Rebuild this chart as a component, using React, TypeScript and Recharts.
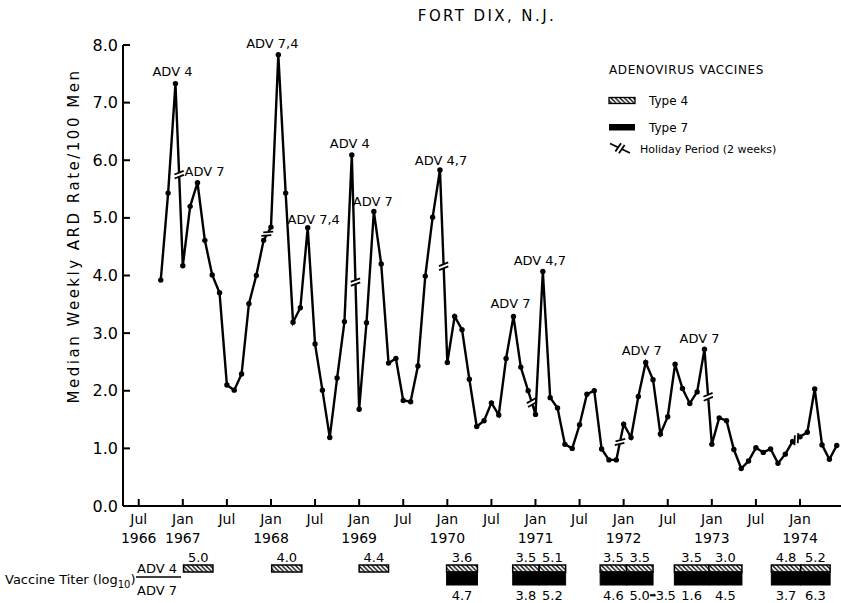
import React from 'react';
import { ComposedChart, Line, XAxis, YAxis, ReferenceArea, LabelList } from 'recharts';

// median weekly ARD rate per 100 men, one value per month
const rate1966 = [3.92, 5.43, 7.33]; // Oct - Dec
const rate1967 = [4.17, 5.2, 5.61, 4.61, 4.01, 3.7, 2.1, 2.01, 2.29, 3.51, 4.0, 4.61];
const rate1968 = [4.84, 7.83, 5.43, 3.19, 3.44, 4.83, 2.81, 2.01, 1.19, 2.22, 3.2, 6.09];
const rate1969 = [1.68, 3.18, 5.11, 4.2, 2.48, 2.56, 1.83, 1.81, 2.43, 3.99, 5.01, 5.83];
const rate1970 = [2.49, 3.29, 3.06, 2.2, 1.38, 1.48, 1.79, 1.58, 2.56, 3.29, 2.41, 2.0];
const rate1971 = [1.59, 4.07, 1.88, 1.7, 1.07, 1.0, 1.41, 1.94, 2.0, 0.99, 0.8, 0.8];
const rate1972 = [1.42, 1.19, 1.9, 2.49, 2.19, 1.25, 1.55, 2.46, 2.04, 1.78, 1.98, 2.72];
const rate1973 = [1.07, 1.53, 1.48, 0.98, 0.65, 0.78, 1.01, 0.93, 0.99, 0.74, 0.9, 1.12];
const rate1974 = [1.2, 1.28, 2.03, 1.06, 0.81, 1.05]; // Jan - Jun

// [year, first month, values]
const yearly: [number, number, number[]][] = [
  [1966, 10, rate1966],
  [1967, 1, rate1967],
  [1968, 1, rate1968],
  [1969, 1, rate1969],
  [1970, 1, rate1970],
  [1971, 1, rate1971],
  [1972, 1, rate1972],
  [1973, 1, rate1973],
  [1974, 1, rate1974],
];

const peakNotes = [
  { month: '1966-12', text: 'ADV 4' },
  { month: '1967-3', text: 'ADV 7' },
  { month: '1968-2', text: 'ADV 7,4' },
  { month: '1968-6', text: 'ADV 7,4' },
  { month: '1968-12', text: 'ADV 4' },
  { month: '1969-3', text: 'ADV 7' },
  { month: '1969-12', text: 'ADV 4,7' },
  { month: '1970-10', text: 'ADV 7' },
  { month: '1971-2', text: 'ADV 4,7' },
  { month: '1972-4', text: 'ADV 7' },
  { month: '1972-12', text: 'ADV 7' },
];

// x axis: months counted from Jul 1966
const tickMonths = [0, 6, 12, 18, 24, 30, 36, 42, 48, 54, 60, 66, 72, 78, 84, 90];
const tickNames = ['Jul', 'Jan', 'Jul', 'Jan', 'Jul', 'Jan', 'Jul', 'Jan', 'Jul', 'Jan', 'Jul', 'Jan', 'Jul', 'Jan', 'Jul', 'Jan'];
const tickYears = ['1966', '1967', '', '1968', '', '1969', '', '1970', '', '1971', '', '1972', '', '1973', '', '1974'];
const rateTicks = [0, 1, 2, 3, 4, 5, 6, 7, 8];

// vaccine given, months from Jul 1966, with titers (log10)
const vaccineSpans = [
  { from: 6.1, to: 10.1, adv4: '5.0', adv7: '' },
  { from: 18.1, to: 22.2, adv4: '4.0', adv7: '' },
  { from: 30, to: 34, adv4: '4.4', adv7: '' },
  { from: 41.9, to: 46.1, adv4: '3.6', adv7: '4.7' },
  { from: 50.9, to: 54.5, adv4: '3.5', adv7: '3.8' },
  { from: 54.5, to: 58.1, adv4: '5.1', adv7: '5.2' },
  { from: 62.8, to: 66.4, adv4: '3.5', adv7: '4.6' },
  { from: 66.4, to: 70, adv4: '3.5', adv7: '5.0>3.5' },
  { from: 72.9, to: 77.6, adv4: '3.5', adv7: '1.6' },
  { from: 77.6, to: 82.1, adv4: '3.0', adv7: '4.5' },
  { from: 86.1, to: 90.1, adv4: '4.8', adv7: '3.7' },
  { from: 90.1, to: 94.1, adv4: '5.2', adv7: '6.3' },
];

const rows = yearly.flatMap(([yr, first, vals]) =>
  vals.map((rate, i) => {
    const mon = first + i;
    const key = `${yr}-${mon}`;
    const note = peakNotes.find((n) => n.month === key);
    return { t: (yr - 1966) * 12 + mon - 7, key, rate, holiday: mon === 12, note: note ? note.text : '' };
  })
);

// where each peak label sits relative to its point
const noteShift: Record<string, [number, number]> = {
  '1966-12': [-3, -12],
  '1967-3': [7, -11],
  '1968-2': [-6, -11],
  '1968-6': [6, -8],
  '1968-12': [-2, -12],
  '1969-3': [-1, -10],
  '1969-12': [1, -10],
  '1970-10': [-3, -13],
  '1971-2': [-3, -11],
  '1972-4': [-4, -12],
  '1972-12': [-5, -11],
};

const FONT = '"DejaVu Sans", sans-serif';

function breakMark(mx: number, my: number, ux: number, uy: number, k: string) {
  let px = -uy;
  let py = ux;
  if (px - py < 0) {
    px = -px;
    py = -py;
  }
  let sx = px + 0.6;
  let sy = py - 0.6;
  const l = Math.hypot(sx, sy) || 1;
  sx = (sx / l) * 5;
  sy = (sy / l) * 5;
  return (
    <g key={k}>
      <line x1={mx - ux * 2.5} y1={my - uy * 2.5} x2={mx + ux * 2.5} y2={my + uy * 2.5} stroke="#fff" strokeWidth={5} />
      {[-2, 2].map((s) => (
        <line
          key={s}
          x1={mx + ux * s - sx}
          y1={my + uy * s - sy}
          x2={mx + ux * s + sx}
          y2={my + uy * s + sy}
          stroke="#000"
          strokeWidth={1.8}
        />
      ))}
    </g>
  );
}

const renderDot = (p: any) => {
  const { cx, cy, index, payload, points } = p;
  let mark = null;
  if (payload && payload.holiday && points && points[index + 1]) {
    const nx = points[index + 1].x;
    const ny = points[index + 1].y;
    const dx = nx - cx;
    const dy = ny - cy;
    const l = Math.hypot(dx, dy) || 1;
    mark = breakMark((cx + nx) / 2, (cy + ny) / 2, dx / l, dy / l, 'b');
  }
  return (
    <g key={`dot-${index}`}>
      <circle cx={cx} cy={cy} r={2.7} fill="#000" />
      {mark}
    </g>
  );
};

const renderNote = (p: any) => {
  const { x, y, value, index } = p;
  if (!value) return null;
  const [dx, dy] = noteShift[rows[index].key] || [0, -11];
  return (
    <text x={x + dx} y={y + dy} textAnchor="middle" dominantBaseline="central" fontSize={13} fontFamily={FONT} fill="#000">
      {value}
    </text>
  );
};

const MonthTick = (props: any) => {
  const { x, y, payload } = props;
  const i = tickMonths.indexOf(payload.value);
  return (
    <g fontFamily={FONT} fontSize={14} fill="#000">
      <line x1={x} y1={y} x2={x} y2={y - 7} stroke="#000" strokeWidth={2} />
      <text x={x} y={y + 13} textAnchor="middle" dominantBaseline="central">{tickNames[i]}</text>
      <text x={x} y={y + 32} textAnchor="middle" dominantBaseline="central">{tickYears[i]}</text>
    </g>
  );
};

const RateTick = (props: any) => {
  const { x, y, payload } = props;
  return (
    <g>
      <line x1={x} y1={y} x2={x + 7} y2={y} stroke="#000" strokeWidth={2} />
      <text x={x - 5} y={y} textAnchor="end" dominantBaseline="central" fontSize={16} fontFamily={FONT} fill="#000">
        {Number(payload.value).toFixed(1)}
      </text>
    </g>
  );
};

const VaccineBox = (props: any) => {
  const { x, y, width, height, span } = props;
  const base = y + height;
  const top = base + 59;
  const cx = x + width / 2;
  const parts = span.adv7.split('>');
  return (
    <g fontFamily={FONT} fontSize={13} fill="#000">
      <rect x={x} y={top} width={width} height={7} fill="url(#hatch4)" stroke="#000" strokeWidth={1.5} />
      {span.adv7 && <rect x={x} y={top + 7} width={width} height={13} fill="#000" stroke="#000" strokeWidth={1} />}
      <text x={cx} y={base + 51} textAnchor="middle" dominantBaseline="central">{span.adv4}</text>
      {span.adv7 && parts.length === 1 && (
        <text x={cx} y={base + 89} textAnchor="middle" dominantBaseline="central">{span.adv7}</text>
      )}
      {parts.length === 2 && (
        <text x={x + 3} y={base + 89} dominantBaseline="central" letterSpacing={-0.3}>
          {parts[0]}
          <tspan fontSize={8}>{'\u27a1'}</tspan>
          {parts[1]}
        </text>
      )}
    </g>
  );
};

export default function App() {
  return (
    <div style={{ position: 'relative', width: 841, height: 603, background: '#fff' }}>
      <style>{'body{margin:0}'}</style>
      <ComposedChart width={841} height={603} data={rows} margin={{ top: 45, right: 0, bottom: 0, left: 0 }}>
        <XAxis
          type="number"
          dataKey="t"
          domain={[-2.14, 95.58]}
          ticks={tickMonths}
          interval={0}
          tick={<MonthTick />}
          tickLine={false}
          tickSize={0}
          tickMargin={0}
          height={97}
          axisLine={{ stroke: '#000', strokeWidth: 2 }}
        />
        <YAxis
          type="number"
          domain={[0, 8]}
          ticks={rateTicks}
          interval={0}
          tick={<RateTick />}
          tickLine={false}
          tickSize={0}
          tickMargin={0}
          width={123}
          axisLine={{ stroke: '#000', strokeWidth: 2 }}
        />
        {vaccineSpans.map((s, i) => (
          <ReferenceArea
            key={`vac-${i}`}
            x1={s.from}
            x2={s.to}
            ifOverflow="visible"
            shape={(p: any) => <VaccineBox {...p} span={s} />}
          />
        ))}
        <Line
          type="linear"
          dataKey="rate"
          stroke="#000"
          strokeWidth={2.4}
          dot={renderDot}
          activeDot={false}
          isAnimationActive={false}
        >
          <LabelList dataKey="note" content={renderNote} />
        </Line>
      </ComposedChart>
      <svg
        width={841}
        height={603}
        style={{ position: 'absolute', left: 0, top: 0, pointerEvents: 'none' }}
        fontFamily={FONT}
        fill="#000"
      >
        <defs>
          <pattern id="hatch4" patternUnits="userSpaceOnUse" width={4.5} height={4.5}>
            <rect width={4.5} height={4.5} fill="#fff" />
            <path d="M-1,-1 L5.5,5.5 M-1,3.5 L1,5.5 M3.5,-1 L5.5,1" stroke="#000" strokeWidth={1.3} />
          </pattern>
        </defs>
        <text x={487} y={16} textAnchor="middle" dominantBaseline="central" fontSize={15} letterSpacing={2.4}>
          FORT DIX, N.J.
        </text>
        <text
          transform="translate(74 236) rotate(-90)"
          textAnchor="middle"
          dominantBaseline="central"
          fontSize={15}
          letterSpacing={2.5}
        >
          Median Weekly ARD Rate/100 Men
        </text>
        <text x={609} y={70} dominantBaseline="central" fontSize={12} letterSpacing={0.6}>ADENOVIRUS VACCINES</text>
        <rect x={609} y={97.5} width={26} height={6} fill="url(#hatch4)" stroke="#000" strokeWidth={1.3} />
        <text x={649} y={100.5} dominantBaseline="central" fontSize={12}>Type 4</text>
        <rect x={609} y={124} width={26} height={6.5} fill="#000" />
        <text x={649} y={127.5} dominantBaseline="central" fontSize={12}>Type 7</text>
        <line x1={610} y1={143.5} x2={630} y2={153} stroke="#000" strokeWidth={1.8} />
        {breakMark(620, 148.25, 0.9, 0.43, 'legend-break')}
        <text x={640} y={149} dominantBaseline="central" fontSize={11}>Holiday Period (2 weeks)</text>
        <text x={5} y={584} fontSize={13}>
          Vaccine Titer (log<tspan dy={4} fontSize={10}>10</tspan><tspan dy={-4}>)</tspan>
        </text>
        <text x={137} y={573} fontSize={13}>ADV 4</text>
        <line x1={136} y1={577} x2={181} y2={577} stroke="#000" strokeWidth={1.3} />
        <text x={137} y={595} fontSize={13}>ADV 7</text>
      </svg>
    </div>
  );
}
